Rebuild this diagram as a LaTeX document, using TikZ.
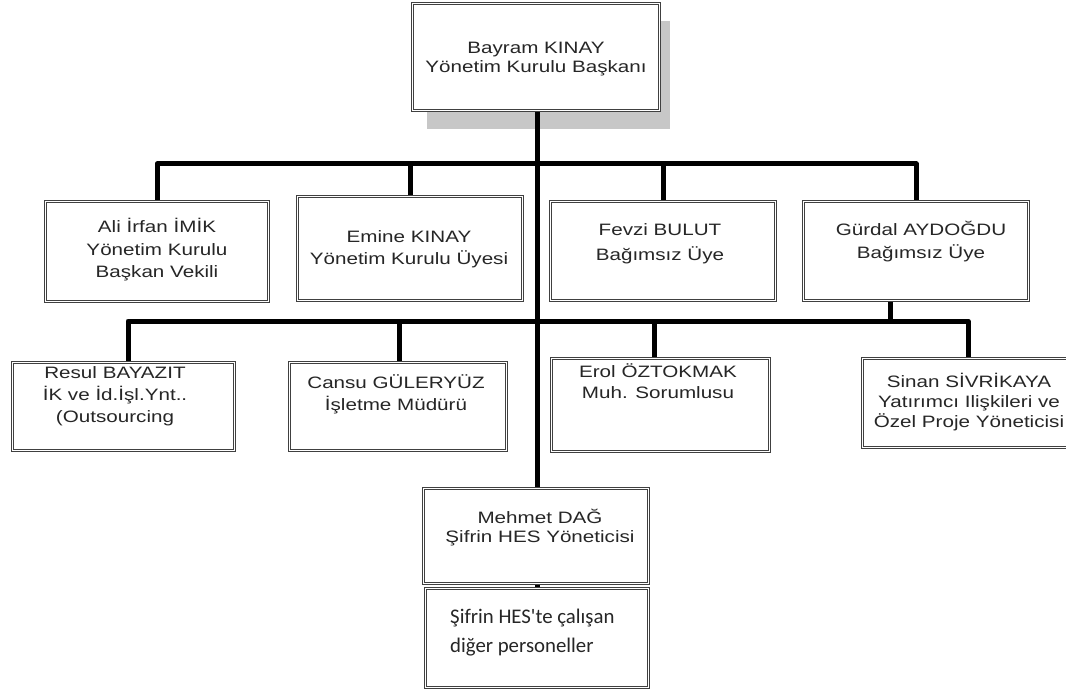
\documentclass[tikz,border=0pt]{standalone}
\usepackage{fontspec}
\setmainfont[FakeStretch=1.25]{Liberation Sans}
\newfontfamily\calfont{Carlito}
\usetikzlibrary{shadows}
\begin{document}
\begin{tikzpicture}[x=1pt,y=-1pt,
  box/.style={draw=black!75, double=white, double distance=1.6pt, line width=0.7pt,
    fill=white, inner sep=0pt, anchor=north west},
  conn/.style={line width=5pt, line join=round, draw=black},
  txt/.style={align=center, anchor=base, inner sep=0pt, text=black!85},
  fs/.style={font=\fontsize{16.5}{#1}\selectfont}]
\useasboundingbox (0,0) rectangle (1066,695);
\fill[white] (0,0) rectangle (1066,695);
% shadow of the top box
\fill[black!22] (427,21) rectangle (670,129);
% junction coordinates
\coordinate (b1) at (537,164);
\coordinate (b2) at (537,321);
% connectors
\coordinate (topbot) at (537,110);
\coordinate (mehtop) at (537,488);
\draw[conn] (topbot) -- (mehtop);
\draw[conn] (157,201) |- (b1) -| (916,201);
\draw[conn] (410,196) -- (410,164);
\draw[conn] (663,201) -- (663,164);
\draw[conn] (128,362) |- (b2) -| (968,358);
\draw[conn] (399,362) -- (399,321);
\draw[conn] (654,358) -- (654,321);
\draw[conn] (890,300) -- (890,321);
\draw[conn] (537,583) -- (537,588);
% boxes
\node[box, minimum width=247pt, minimum height=107pt] (top) at (412,3) {};
\node[box, minimum width=223pt, minimum height=100pt] (ali) at (45,201) {};
\node[box, minimum width=225pt, minimum height=104pt] (emine) at (297,196) {};
\node[box, minimum width=225pt, minimum height=99pt] (fevzi) at (550,201) {};
\node[box, minimum width=225pt, minimum height=99pt] (gurdal) at (803,201) {};
\node[box, minimum width=222pt, minimum height=88pt] (resul) at (12,362) {};
\node[box, minimum width=217pt, minimum height=88pt] (cansu) at (289,362) {};
\node[box, minimum width=218pt, minimum height=93pt] (erol) at (551,358) {};
\node[box, minimum width=215pt, minimum height=89pt] (sinan) at (862,358) {};
\node[box, minimum width=225pt, minimum height=95pt] (mehmet) at (423,488) {};
\node[box, minimum width=223pt, minimum height=99pt] (other) at (425,588) {};
% texts (anchor = baseline of the last line)
\node[txt, fs=19.5] (topt) at (536,72.7) {Bayram KINAY\\Yönetim Kurulu Başkanı};
\node[txt, fs=22] (alit) at (157,277) {Ali İrfan İMİK\\Yönetim Kurulu\\Başkan Vekili};
\node[txt, fs=22] (eminet) at (409,265) {Emine KINAY\\Yönetim Kurulu Üyesi};
\node[txt, fs=25] (fevzit) at (660,261) {Fevzi BULUT\\Bağımsız Üye};
\node[txt, fs=24] (gurdalt) at (921,259) {Gürdal AYDOĞDU\\Bağımsız Üye};
\node[txt, fs=22] (result) at (115,422) {Resul BAYAZIT\\İK ve İd.İşl.Ynt..\\(Outsourcing};
\node[txt, fs=21.5] (cansut) at (396,410) {Cansu GÜLERYÜZ\\İşletme Müdürü};
\node[txt, fs=21] (erolt) at (658,398) {Erol ÖZTOKMAK\\Muh. Sorumlusu};
\node[txt, fs=20] (sinant) at (969,427) {Sinan SİVRİKAYA\\Yatırımcı Ilişkileri ve\\Özel Proje Yöneticisi};
\node[txt, fs=19] (mehmett) at (540,542) {Mehmet DAĞ\\Şifrin HES Yöneticisi};
\node[align=left, anchor=base west, inner sep=0pt, text=black!85, font=\calfont\fontsize{20.8}{29}\selectfont] (othert) at (450,652) {Şifrin HES\textquotesingle te çalışan\\diğer personeller};
\end{tikzpicture}
\end{document}
